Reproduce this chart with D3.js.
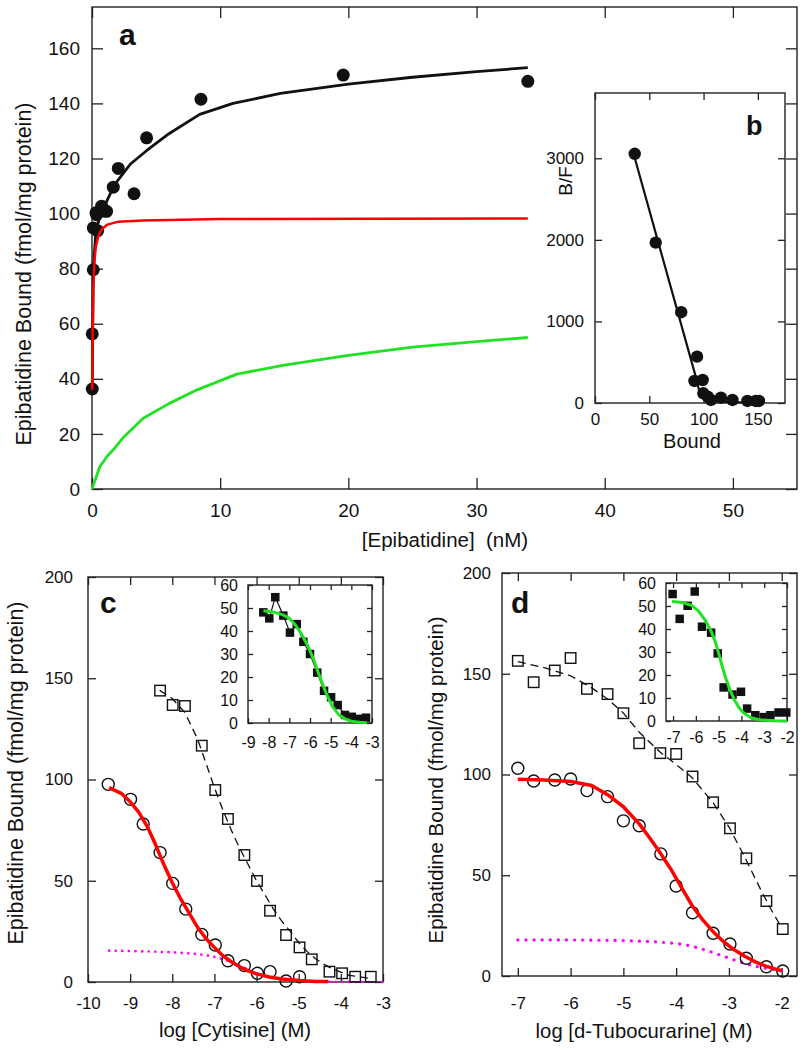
<!DOCTYPE html>
<html>
<head>
<meta charset="utf-8">
<script src="https://cdn.jsdelivr.net/npm/d3@7"></script>
<style>
  body { margin: 0; background: #fff; }
  svg { display: block; }
</style>
</head>
<body>
<svg id="fig" width="806" height="1050"></svg>
<script>
// ---- panel a: saturation binding ----
const satX = [0.02, 0.02, 0.1, 0.1, 0.44, 0.31, 0.36, 0.75, 0.88, 1.14, 1.66, 2.05, 3.28, 4.26, 8.5, 19.6, 34.0];
const satY = [36.3, 56.3, 79.6, 94.8, 93.8, 100.3, 99.6, 102.7, 100.9, 100.8, 109.6, 116.4, 107.2, 127.5, 141.5, 150.3, 148];
const totalFitX = [0.02, 0.1, 0.3, 0.6, 1, 1.5, 2, 3, 4.3, 6, 8.4, 11, 14.7, 20, 25, 30, 34];
const totalFitY = [37, 80, 93, 99, 103, 108, 112, 118, 123, 129, 136, 140, 143.6, 147, 149.5, 151.5, 153];
const highFitX = [0.02, 0.05, 0.1, 0.2, 0.3, 0.5, 0.8, 1.2, 2, 4, 10, 34];
const highFitY = [36, 57, 73, 83, 88, 92, 94.5, 96, 97, 97.5, 98, 98.2];
const lowFitX = [0, 0.3, 0.6, 1.2, 1.8, 2.5, 4, 6, 8.2, 11.3, 15, 20, 25, 30, 34];
const lowFitY = [0, 4, 8, 12, 15, 19, 25.7, 31, 36, 41.7, 45, 48.5, 51.5, 53.5, 55];
const aXTicks = [0, 10, 20, 30, 40, 50];
const aYTicks = [0, 20, 40, 60, 80, 100, 120, 140, 160];

// ---- panel b: Scatchard ----
const bBound = [36.6, 55.9, 79.4, 94, 91.6, 99.2, 99.8, 103.8, 106.8, 116, 126.6, 140.4, 148, 151];
const bRatio = [3055, 1966, 1113, 568, 270, 282, 119, 77, 37, 65, 37, 25, 25, 25];
const bFitX = [36.5, 92, 96, 100, 108, 125, 150];
const bFitY = [3010, 360, 150, 60, 25, 10, 3];
const bXTicks = [0, 50, 100, 150];
const bYTicks = [0, 1000, 2000, 3000];

// ---- panel c: cytisine ----
const cCircX = [-9.52, -8.99, -8.69, -8.29, -7.99, -7.68, -7.30, -6.98, -6.68, -6.29, -5.98, -5.68, -5.30, -4.98];
const cCircY = [97.6, 90.2, 78.0, 63.9, 48.7, 36.0, 23.5, 18.3, 10.5, 8.1, 4.3, 5.1, 0.5, 2.6];
const cSqX = [-8.29, -7.99, -7.70, -7.30, -6.98, -6.68, -6.29, -5.99, -5.68, -5.30, -4.98, -4.69, -4.27, -3.97, -3.66, -3.29];
const cSqY = [143.9, 136.8, 136.3, 116.7, 94.8, 80.5, 62.7, 49.9, 35.2, 23.2, 17.1, 11.2, 5.1, 4.3, 2.6, 2.6];
const cDashX = [-8.3, -8, -7.7, -7.4, -7.2, -7, -6.8, -6.6, -6.4, -6.2, -6, -5.8, -5.6, -5.4, -5.2, -5, -4.8, -4.6, -4.4, -4.2, -3.8, -3.3];
const cDashY = [144, 140, 133, 120, 108, 96, 85, 75, 66, 58, 50, 43, 36, 30, 25, 19.5, 15, 11.5, 8.7, 6.5, 3.3, 1.7];
const cRedX = [-9.5, -9.2, -9.0, -8.8, -8.6, -8.4, -8.2, -8.0, -7.8, -7.6, -7.4, -7.2, -7.0, -6.8, -6.6, -6.4, -6.2, -6.0, -5.7, -5.4, -5.0, -4.6, -4.3];
const cRedY = [96, 93, 89, 84, 77, 68, 58, 49, 41, 34, 27, 21.5, 17, 13, 10, 7.5, 5.5, 4, 2.5, 1.5, 0.7, 0.3, 0.2];
const cPinkX = [-9.5, -9, -8.5, -8, -7.5, -7.2, -7, -6.8, -6.6, -6.4, -6.2, -6, -5.8, -5.6, -5.4, -5.1, -4.7, -4.2, -3.5, -3];
const cPinkY = [15.5, 15.3, 15, 14.7, 14, 13.2, 12.4, 11.3, 9.8, 8, 6.2, 4.4, 3, 2, 1.3, 0.7, 0.3, 0.1, 0, 0];
const cXTicks = [-10, -9, -8, -7, -6, -5, -4, -3];
const cYTicks = [0, 50, 100, 150, 200];
// inset c
const ciX = [-8.26, -7.97, -7.68, -7.29, -6.97, -6.64, -6.32, -6.0, -5.65, -5.32, -4.98, -4.66, -4.31, -3.98, -3.65, -3.29];
const ciY = [48.1, 45.5, 54.7, 46.7, 39.3, 43.0, 35.3, 30.0, 21.9, 14.0, 11.2, 7.8, 3.5, 2.7, 1.8, 2.3];
const ciFitX = [-8.25, -7.8, -7.3, -7, -6.7, -6.4, -6.1, -5.8, -5.5, -5.2, -4.9, -4.6, -4.3, -4, -3.6, -3.25];
const ciFitY = [48.8, 48.3, 47, 45.5, 42.5, 38.5, 33.5, 27, 19.5, 12.5, 7, 3.5, 1.8, 0.8, 0.3, 0.1];
const ciXTicks = [-9, -8, -7, -6, -5, -4, -3];
const insetYTicks = [0, 10, 20, 30, 40, 50, 60];

// ---- panel d: d-tubocurarine ----
const dCircX = [-7.0, -6.70, -6.30, -6.0, -5.69, -5.30, -5.0, -4.70, -4.29, -4.0, -3.69, -3.30, -2.98, -2.67, -2.29, -1.98];
const dCircY = [103.1, 96.8, 97.3, 97.8, 92.0, 89.0, 77.0, 74.6, 60.6, 44.7, 31.4, 21.2, 15.9, 8.8, 4.6, 2.5];
const dSqX = [-7.0, -6.70, -6.30, -6.0, -5.69, -5.30, -5.0, -4.70, -4.30, -4.0, -3.69, -3.30, -2.98, -2.67, -2.29, -1.98];
const dSqY = [156.4, 145.8, 151.6, 157.8, 142.5, 139.9, 130.4, 115.5, 110.6, 110.2, 99.0, 86.2, 73.3, 58.4, 37.2, 23.3];
const dDashX = [-7, -6.5, -6, -5.6, -5.3, -5, -4.7, -4.5, -4.3, -4, -3.7, -3.3, -3, -2.7, -2.4, -2.2, -2];
const dDashY = [156, 153, 149, 143, 137.5, 130.5, 121, 116, 111, 105, 98.5, 86, 74, 59, 43, 33, 24];
const dRedX = [-7, -6.5, -6, -5.6, -5.3, -5, -4.7, -4.5, -4.3, -4.1, -3.9, -3.7, -3.5, -3.3, -3.1, -2.9, -2.7, -2.5, -2.3, -2.1, -2];
const dRedY = [97.6, 97.3, 96.5, 94.5, 90, 84, 75.5, 68.5, 61, 53, 44, 35, 28, 22, 17, 13, 9.8, 7, 4.9, 3.3, 2.6];
const dPinkX = [-7, -6, -5, -4.5, -4, -3.7, -3.4, -3.1, -2.8, -2.5, -2.2, -2];
const dPinkY = [17.9, 17.9, 17.6, 17.1, 16.2, 14.8, 12.5, 9.8, 7, 4.8, 3.4, 2.9];
const dXTicks = [-7, -6, -5, -4, -3, -2];
// inset d
const diX = [-7.02, -6.71, -6.36, -6.05, -5.73, -5.33, -5.04, -4.78, -4.39, -4.02, -3.75, -3.39, -3.02, -2.73, -2.37, -2.03];
const diY = [55.2, 44.4, 50.1, 56.3, 41.0, 38.4, 29.4, 14.6, 11.5, 12.7, 5.4, 2.5, 1.7, 2.5, 3.7, 3.7];
const diFitX = [-7.05, -6.6, -6.2, -5.9, -5.6, -5.35, -5.15, -5.0, -4.85, -4.7, -4.5, -4.3, -4.1, -3.9, -3.6, -3.2, -2.6, -2];
const diFitY = [52, 51.5, 50.3, 48, 44, 39.5, 34.5, 29.5, 24, 19, 13.5, 9, 5.7, 3.5, 1.5, 0.5, 0.1, 0];

const FONT = '"Liberation Sans", Arial, Helvetica, sans-serif';
const RED = "#ff0000", GREEN = "#22e022", PINK = "#ff00ff";

const svg = d3.select("#fig");

// framed plot with inward ticks mirrored on all four sides
function panel(o) {
  const x = d3.scaleLinear().domain(o.xd).range([o.l, o.r]);
  const y = d3.scaleLinear().domain(o.yd).range([o.b, o.t]);
  const g = svg.append("g");
  if (o.bg) {
    g.append("rect").attr("x", o.l).attr("y", o.t)
      .attr("width", o.r - o.l).attr("height", o.b - o.t).attr("fill", "#fff");
  }
  const fmt = (d) => String(d);
  const axes = [
    [d3.axisBottom(x).tickValues(o.xt).tickFormat(fmt).tickPadding(o.xp), "translate(0," + o.b + ")"],
    [d3.axisTop(x).tickValues(o.xt).tickFormat(""), "translate(0," + o.t + ")"],
    [d3.axisLeft(y).tickValues(o.yt).tickFormat(fmt).tickPadding(o.yp), "translate(" + o.l + ",0)"],
    [d3.axisRight(y).tickValues(o.yt).tickFormat(""), "translate(" + o.r + ",0)"],
  ];
  axes.forEach(([ax, tr]) => {
    g.append("g")
      .attr("transform", tr)
      .call(ax.tickSize(-o.tk).tickSizeOuter(0))
      .attr("font-size", o.fs)
      .attr("font-family", FONT);
  });
  g.selectAll(".domain").remove();
  g.selectAll(".tick line").attr("stroke", "#222").attr("stroke-width", 1.3);
  g.selectAll(".tick text").attr("fill", "#111");
  g.append("rect")
    .attr("x", o.l).attr("y", o.t)
    .attr("width", o.r - o.l).attr("height", o.b - o.t)
    .attr("fill", "none").attr("stroke", "#222").attr("stroke-width", 1.4);
  return { g: g.append("g"), x, y };
}

function curve(p, xs, ys, color, width, dash) {
  const line = d3.line().x((d) => p.x(d[0])).y((d) => p.y(d[1]));
  const path = p.g.append("path")
    .datum(d3.zip(xs, ys))
    .attr("d", line)
    .attr("fill", "none")
    .attr("stroke", color)
    .attr("stroke-width", width)
    .attr("stroke-linejoin", "round");
  if (dash) path.attr("stroke-dasharray", dash[0]).attr("stroke-linecap", dash[1] || "butt");
  return path;
}

function dots(p, xs, ys, r) {
  p.g.selectAll(null).data(d3.zip(xs, ys)).enter().append("circle")
    .attr("cx", (d) => p.x(d[0])).attr("cy", (d) => p.y(d[1]))
    .attr("r", r).attr("fill", "#111");
}

function rings(p, xs, ys, r) {
  p.g.selectAll(null).data(d3.zip(xs, ys)).enter().append("circle")
    .attr("cx", (d) => p.x(d[0])).attr("cy", (d) => p.y(d[1]))
    .attr("r", r).attr("fill", "none").attr("stroke", "#111").attr("stroke-width", 1.4);
}

function squares(p, xs, ys, s, filled) {
  p.g.selectAll(null).data(d3.zip(xs, ys)).enter().append("rect")
    .attr("x", (d) => p.x(d[0]) - s / 2).attr("y", (d) => p.y(d[1]) - s / 2)
    .attr("width", s).attr("height", s)
    .attr("fill", filled ? "#111" : "none")
    .attr("stroke", "#111").attr("stroke-width", filled ? 0 : 1.4);
}

function label(x, y, txt, size, opts = {}) {
  const t = svg.append("text")
    .attr("x", x).attr("y", y)
    .attr("font-family", FONT).attr("font-size", size)
    .attr("fill", "#111")
    .attr("text-anchor", opts.anchor || "middle")
    .style("white-space", "pre")
    .text(txt);
  if (opts.bold) t.attr("font-weight", "bold");
  if (opts.rotate) t.attr("transform", "rotate(-90," + x + "," + y + ")");
  return t;
}

// ---------- panel a ----------
const pa = panel({ l: 92, r: 797, t: 7, b: 489, xd: [0, 55], yd: [0, 175],
  xt: aXTicks, yt: aYTicks, tk: 11, fs: 19, xp: 15, yp: 12 });
curve(pa, lowFitX, lowFitY, GREEN, 2.8);
curve(pa, totalFitX, totalFitY, "#111", 2.8);
dots(pa, satX, satY, 6.5);
curve(pa, highFitX, highFitY, RED, 2.5);
label(119, 45, "a", 30, { anchor: "start", bold: true });
label(445, 547, "[Epibatidine]  (nM)", 20.5);
label(31, 274, "Epibatidine Bound (fmol/mg protein)", 21.5, { rotate: true });

// ---------- panel b (inset Scatchard) ----------
const pb = panel({ l: 595, r: 785, t: 93, b: 403, xd: [0, 175], yd: [0, 3800], bg: true,
  xt: bXTicks, yt: bYTicks, tk: 7, fs: 17, xp: 10, yp: 11 });
curve(pb, bFitX, bFitY, "#111", 2.2);
dots(pb, bBound, bRatio, 6.2);
label(746, 135, "b", 27, { anchor: "start", bold: true });
label(692, 448, "Bound", 20);
label(572, 181, "B/F", 19, { rotate: true });

// ---------- panel c ----------
const pc = panel({ l: 88, r: 383, t: 577, b: 982, xd: [-10, -3], yd: [0, 200],
  xt: cXTicks, yt: cYTicks, tk: 8, fs: 17, xp: 15, yp: 15 });
curve(pc, cPinkX, cPinkY, PINK, 2.6, ["0.1,6.5", "round"]);
curve(pc, cDashX, cDashY, "#111", 1.3, ["8,5"]);
squares(pc, cSqX, cSqY, 10.5, false);
rings(pc, cCircX, cCircY, 6);
curve(pc, cRedX, cRedY, RED, 3.5);
label(100, 613, "c", 30, { anchor: "start", bold: true });
label(235, 1037, "log [Cytisine] (M)", 20.3);
label(23, 773, "Epibatidine Bound (fmol/mg protein)", 21.5, { rotate: true });

const pci = panel({ l: 248, r: 372, t: 585, b: 723, xd: [-9, -3], yd: [0, 60], bg: true,
  xt: ciXTicks, yt: insetYTicks, tk: 5, fs: 16, xp: 14, yp: 10 });
curve(pci, ciX, ciY, "#111", 1.2);
squares(pci, ciX, ciY, 8.5, true);
curve(pci, ciFitX, ciFitY, GREEN, 3);

// ---------- panel d ----------
const pd = panel({ l: 502, r: 797, t: 573, b: 976, xd: [-7.3, -1.71], yd: [0, 200],
  xt: dXTicks, yt: cYTicks, tk: 8, fs: 17, xp: 21, yp: 11 });
curve(pd, dPinkX, dPinkY, PINK, 3.2, ["0.1,8", "round"]);
curve(pd, dDashX, dDashY, "#111", 1.3, ["8,5"]);
squares(pd, dSqX, dSqY, 10.5, false);
rings(pd, dCircX, dCircY, 6);
curve(pd, dRedX, dRedY, RED, 3.5);
label(511, 613, "d", 30, { anchor: "start", bold: true });
label(644, 1038, "log [d-Tubocurarine] (M)", 20.3);
label(443, 780, "Epibatidine Bound (fmol/mg protein)", 20.5, { rotate: true });

const pdi = panel({ l: 666, r: 787, t: 583, b: 721, xd: [-7.31, -2], yd: [0, 60], bg: true,
  xt: dXTicks, yt: insetYTicks, tk: 5, fs: 16, xp: 11, yp: 10 });
squares(pdi, diX, diY, 8.5, true);
curve(pdi, diFitX, diFitY, GREEN, 3);
</script>
</body>
</html>
